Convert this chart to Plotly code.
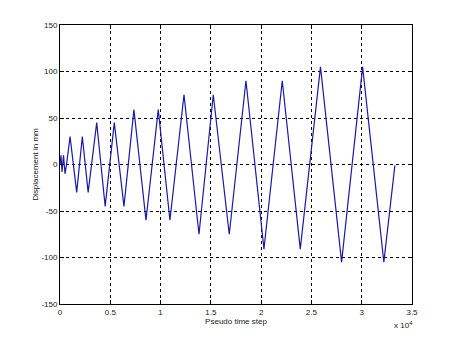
import plotly.graph_objects as go

# Pseudo time step (in units of 1e4) at turning points, and displacement (mm)
time_step_e4 = [0.0, 0.01, 0.02, 0.035, 0.05, 0.065, 0.10, 0.166, 0.222, 0.28,
                0.365, 0.449, 0.54, 0.636, 0.735, 0.855, 0.977, 1.093,
                1.233, 1.382, 1.524, 1.683, 1.849, 2.028, 2.21, 2.389,
                2.59, 2.8, 3.009, 3.22, 3.33]
displacement_mm = [0, 10, -8, 10, -10, 0, 30, -30, 30, -30,
                   45, -45, 45, -45, 59, -60, 59, -60,
                   75, -75, 75, -75, 90, -91, 90, -91,
                   105, -105, 105, -105, -1]

x_ticks = [0, 0.5, 1, 1.5, 2, 2.5, 3, 3.5]
x_tick_labels = ["0", "0.5", "1", "1.5", "2", "2.5", "3", "3.5"]
y_ticks = [-150, -100, -50, 0, 50, 100, 150]
y_tick_labels = ["-150", "-100", "-50", "0", "50", "100", "150"]

font_family = "Liberation Sans, Arial, sans-serif"
text_font = dict(family=font_family, size=8, color="#222")

fig = go.Figure()
fig.add_trace(go.Scatter(
    x=time_step_e4, y=displacement_mm, mode="lines",
    line=dict(color="#1a1aa8", width=1.2),
    showlegend=False,
))

axis_common = dict(
    showline=True, linecolor="black", linewidth=1, mirror="ticks",
    ticks="inside", ticklen=4, tickcolor="black", tickwidth=1,
    showgrid=True, gridcolor="black", gridwidth=1, griddash="3px,3px",
    zeroline=False, automargin=False,
    tickfont=text_font,
)

fig.update_xaxes(
    range=[0, 3.5], tickvals=x_ticks, ticktext=x_tick_labels,
    title=dict(text="Pseudo time step", font=text_font, standoff=0),
    **axis_common,
)
fig.update_yaxes(
    range=[-150, 150], tickvals=y_ticks, ticktext=y_tick_labels,
    title=dict(text="Displacement in mm", font=dict(family=font_family, size=8, color="#111"), standoff=1),
    **axis_common,
)

fig.add_annotation(
    x=1.0, y=0, xref="paper", yref="paper", xanchor="right", yanchor="top",
    yshift=-14, xshift=2,
    text="x 10<sup>4</sup>", showarrow=False,
    font=text_font,
)

fig.update_layout(
    width=456, height=342,
    margin=dict(l=60, r=44, t=25, b=38),
    paper_bgcolor="white", plot_bgcolor="white",
)

fig.write_html("out.html", config={"displayModeBar": False},
               post_script="document.body.style.margin='0';")
